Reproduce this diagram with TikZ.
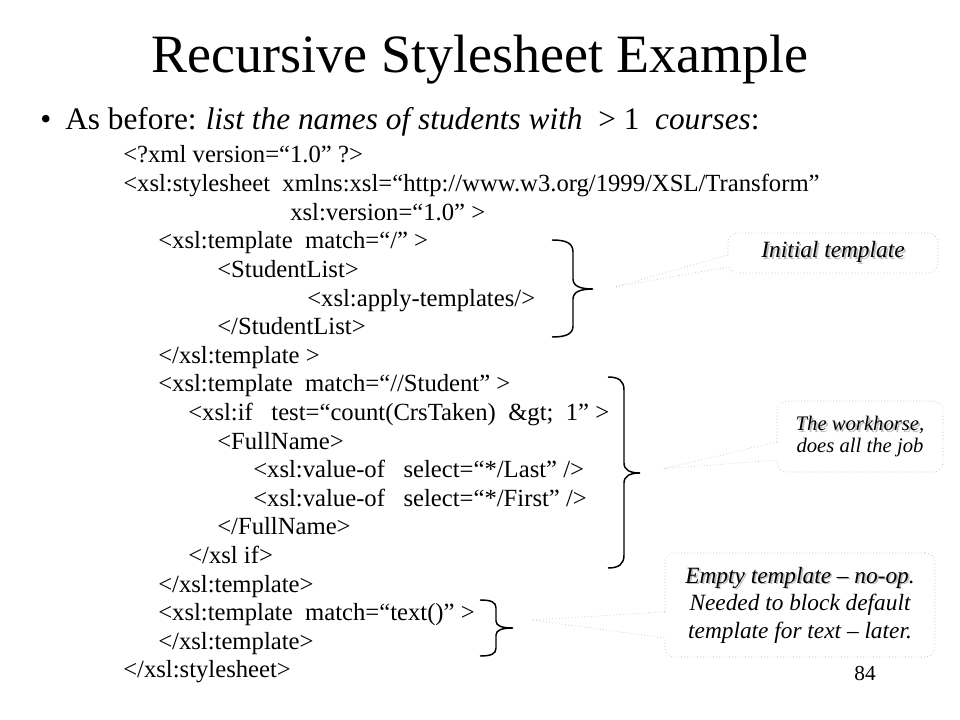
\documentclass[tikz,border=0pt]{standalone}
\usepackage{fontspec}
\setmainfont{Liberation Serif}
\usetikzlibrary{calc}
\newcommand\shd[1]{\leavevmode\rlap{\raisebox{-1.3pt}{\kern1.3pt\textcolor{gray!50}{#1}}}#1}
\begin{document}
\begin{tikzpicture}[x=0.75pt,y=-0.75pt,
  code/.style={anchor=base west, inner sep=0pt, font=\fontsize{18.5}{22}\selectfont},
  callout/.style={draw=gray!75, dotted, rounded corners=7.5pt, fill=white, inner sep=0pt, align=center},
  pointer/.style={draw=gray!75, dotted},
  brace/.style={line width=1.1pt, black}]
\useasboundingbox (0,0) rectangle (960,720);
\fill[white] (0,0) rectangle (960,720);

% title and bullet
\node[anchor=base, inner sep=0pt, font=\fontsize{40.5}{44}\selectfont] (title) at (480,73) {Recursive Stylesheet Example};
\node[anchor=base west, inner sep=0pt, font=\fontsize{23.5}{26}\selectfont] (bul) at (40,130) {•};
\node[anchor=base west, inner sep=0pt, font=\fontsize{23.5}{26}\selectfont] (intro) at (65,130)
  {As before:\kern-1pt{} \textit{list the names of students with}\ \ > 1\ \ \textit{courses}:};

% code lines
\node[code] (l0)  at (123,163)   {<?xml version=“1.0” ?>};
\node[code] (l1)  at (123,191.6) {<xsl:stylesheet\ \ xmlns:xsl=“http://www.w3.org/1999/XSL/Transform”};
\node[code] (l2)  at (290,220.2) {xsl:version=“1.0” >};
\node[code] (l3)  at (158,248.8) {<xsl:template\ \ match=“/” >};
\node[code] (l4)  at (217,277.4) {<StudentList>};
\node[code] (l5)  at (307,306)   {<xsl:apply-templates/>};
\node[code] (l6)  at (217,334.6) {</StudentList>};
\node[code] (l7)  at (158,363.2) {</xsl:template >};
\node[code] (l8)  at (158,391.8) {<xsl:template\ \ match=“//Student” >};
\node[code] (l9)  at (188,420.4) {<xsl:if\ \ \ test=“count(CrsTaken)\ \ \&gt;\ \ 1” >};
\node[code] (l10) at (217,449)   {<FullName>};
\node[code] (l11) at (253,477.6) {<xsl:value-of\ \ \ select=“*/Last” />};
\node[code] (l12) at (253,506.2) {<xsl:value-of\ \ \ select=“*/First” />};
\node[code] (l13) at (217,534.8) {</FullName>};
\node[code] (l14) at (188,563.4) {</xsl if>};
\node[code] (l15) at (158,592)   {</xsl:template>};
\node[code] (l16) at (158,620.6) {<xsl:template\ \ match=“text()” >};
\node[code] (l17) at (158,649.2) {</xsl:template>};
\node[code] (l18) at (123,677.8) {</xsl:stylesheet>};

% braces
\draw[brace] (552,240) .. controls (566,240) and (573,243) .. (573,252) -- (573,279)
  .. controls (573,286) and (580,289) .. (593,289) .. controls (580,289) and (573,292) .. (573,299)
  -- (573,326) .. controls (573,334) and (566,337) .. (552,337);
\draw[brace] (608,377) .. controls (619,377) and (624,381) .. (624,390) -- (624,463)
  .. controls (624,470) and (630,473) .. (640,473) .. controls (630,473) and (624,476) .. (624,483)
  -- (624,555) .. controls (624,564) and (619,568) .. (608,568);
\draw[brace] (480,600) .. controls (491,600) and (496,602) .. (496,608) -- (496,621)
  .. controls (496,626) and (502,628) .. (513,628) .. controls (502,628) and (496,630) .. (496,635)
  -- (496,648) .. controls (496,654) and (491,656) .. (480,656);

% pointer tips
\coordinate (p1) at (615,287);
\coordinate (p2) at (662,469);
\coordinate (p3) at (532,620);

% callouts
\node[callout, minimum width=157.5pt, minimum height=30pt, font=\fontsize{17.5}{20}\selectfont\itshape] (c1) at (833,253)
  {\shd{Initial template}};
\node[callout, minimum width=124.5pt, minimum height=53.25pt, font=\fontsize{15.5}{16.5}\selectfont\itshape] (c2) at (860,436.5)
  {\shd{The workhorse},\\does all the job};
\node[callout, minimum width=202.5pt, minimum height=78pt, font=\fontsize{17.5}{20.6}\selectfont\itshape] (c3) at (800,605)
  {\shd{Empty template – no-op}.\\Needed to block default\\template for text – later.};

% pointers
\fill[white] (p1) -- ($(c1.west)+(1.5,2)$) -- ($(c1.west)+(1.5,14)$) -- cycle;
\draw[pointer] ($(c1.west)+(0,2)$) -- (p1) -- ($(c1.west)+(0,14)$);
\fill[white] (p2) -- ($(c2.west)+(1.5,5.5)$) -- ($(c2.west)+(1.5,23.5)$) -- cycle;
\draw[pointer] ($(c2.west)+(0,5.5)$) -- (p2) -- ($(c2.west)+(0,23.5)$);
\fill[white] (p3) -- ($(c3.west)+(1.5,7)$) -- ($(c3.west)+(1.5,33)$) -- cycle;
\draw[pointer] ($(c3.west)+(0,7)$) -- (p3) -- ($(c3.west)+(0,33)$);

% page number
\node[anchor=base, inner sep=0pt, font=\fontsize{16}{18}\selectfont] (pg) at (865,680) {84};
\end{tikzpicture}
\end{document}
